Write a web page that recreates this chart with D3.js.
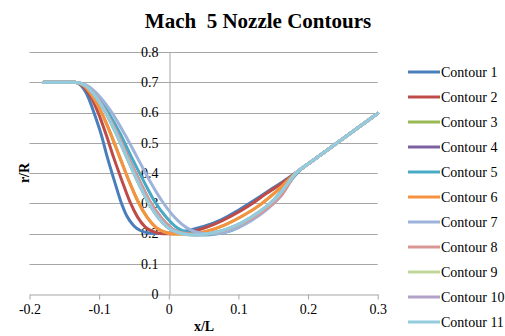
<!DOCTYPE html>
<html>
<head>
<meta charset="utf-8">
<script src="https://cdn.jsdelivr.net/npm/d3@7"></script>
<style>
  body { margin: 0; background: #fff; }
</style>
</head>
<body>
<figure id="chart" style="margin:0"></figure>
<script>
// series names and colours
const names = ["Contour 1", "Contour 2", "Contour 3", "Contour 4", "Contour 5", "Contour 6",
  "Contour 7", "Contour 8", "Contour 9", "Contour 10", "Contour 11"];
const colors = ["#4A7EBB", "#BE4B48", "#98B954", "#7D60A0", "#46AAC5", "#F69240",
  "#9EB3DA", "#DA9694", "#C3D69B", "#B3A2C7", "#93CDDD"];

const xTicks = [-0.2, -0.1, 0, 0.1, 0.2, 0.3];
const yTicks = [0, 0.1, 0.2, 0.3, 0.4, 0.5, 0.6, 0.7, 0.8];

// [x/L, r/R]
const contour1 = [[-0.18,0.7],[-0.135,0.7],[-0.126,0.689],[-0.116,0.652],[-0.107,0.597],[-0.097,0.527],[-0.088,0.45],[-0.078,0.373],[-0.069,0.307],[-0.06,0.257],[-0.05,0.225],[-0.04,0.209],[-0.028,0.202],[-0.01,0.2],[0.01,0.203],[0.03,0.211],[0.05,0.223],[0.075,0.245],[0.1,0.277],[0.125,0.313],[0.15,0.351],[0.17,0.381],[0.185,0.405],[0.2,0.43],[0.245,0.505],[0.3,0.597]];
const contour2 = [[-0.18,0.7],[-0.135,0.7],[-0.124,0.689],[-0.112,0.652],[-0.101,0.597],[-0.09,0.527],[-0.079,0.45],[-0.067,0.373],[-0.056,0.306],[-0.045,0.255],[-0.034,0.222],[-0.022,0.206],[-0.008,0.199],[0.015,0.2],[0.04,0.21],[0.065,0.23],[0.09,0.258],[0.115,0.292],[0.14,0.332],[0.165,0.37],[0.185,0.405],[0.2,0.43],[0.245,0.505],[0.3,0.597]];
const contour3 = [[-0.18,0.7],[-0.135,0.7],[-0.122,0.689],[-0.109,0.652],[-0.096,0.597],[-0.083,0.527],[-0.07,0.45],[-0.057,0.373],[-0.044,0.305],[-0.031,0.253],[-0.018,0.219],[-0.005,0.204],[0.01,0.198],[0.03,0.198],[0.055,0.208],[0.08,0.228],[0.105,0.257],[0.13,0.293],[0.155,0.34],[0.185,0.405],[0.2,0.43],[0.245,0.505],[0.3,0.597]];
const contour4 = [[-0.18,0.7],[-0.135,0.7],[-0.12,0.689],[-0.104,0.652],[-0.089,0.597],[-0.073,0.527],[-0.058,0.45],[-0.042,0.373],[-0.027,0.305],[-0.011,0.252],[0.004,0.217],[0.02,0.202],[0.04,0.196],[0.06,0.2],[0.085,0.214],[0.11,0.238],[0.135,0.273],[0.16,0.322],[0.185,0.405],[0.2,0.43],[0.245,0.505],[0.3,0.597]];
const contour5 = [[-0.18,0.7],[-0.135,0.7],[-0.119,0.689],[-0.102,0.652],[-0.086,0.597],[-0.069,0.527],[-0.053,0.45],[-0.036,0.373],[-0.02,0.305],[-0.003,0.252],[0.013,0.217],[0.03,0.202],[0.05,0.195],[0.07,0.199],[0.09,0.21],[0.11,0.232],[0.13,0.265],[0.15,0.31],[0.17,0.36],[0.19,0.413],[0.2,0.43],[0.245,0.505],[0.3,0.597]];
const contour6 = [[-0.18,0.7],[-0.135,0.7],[-0.122,0.689],[-0.109,0.652],[-0.096,0.597],[-0.083,0.527],[-0.07,0.45],[-0.057,0.373],[-0.044,0.305],[-0.031,0.253],[-0.018,0.219],[-0.005,0.204],[0.01,0.198],[0.03,0.198],[0.055,0.208],[0.08,0.228],[0.105,0.257],[0.13,0.293],[0.155,0.34],[0.185,0.405],[0.2,0.43],[0.245,0.505],[0.3,0.597]];
const contour7 = [[-0.18,0.7],[-0.135,0.7],[-0.117,0.689],[-0.099,0.652],[-0.081,0.597],[-0.063,0.527],[-0.045,0.45],[-0.027,0.373],[-0.009,0.305],[0.009,0.252],[0.027,0.217],[0.045,0.202],[0.065,0.198],[0.085,0.207],[0.105,0.225],[0.13,0.26],[0.155,0.31],[0.185,0.405],[0.2,0.43],[0.245,0.505],[0.3,0.597]];
const contour8 = [[-0.18,0.7],[-0.135,0.7],[-0.12,0.689],[-0.104,0.652],[-0.089,0.597],[-0.073,0.527],[-0.058,0.45],[-0.042,0.373],[-0.027,0.305],[-0.011,0.252],[0.004,0.217],[0.02,0.202],[0.04,0.196],[0.06,0.2],[0.085,0.214],[0.11,0.238],[0.135,0.273],[0.16,0.322],[0.185,0.405],[0.2,0.43],[0.245,0.505],[0.3,0.597]];
const contour9 = [[-0.18,0.7],[-0.135,0.7],[-0.12,0.689],[-0.105,0.652],[-0.09,0.597],[-0.075,0.527],[-0.06,0.45],[-0.045,0.373],[-0.03,0.305],[-0.015,0.252],[0,0.217],[0.015,0.202],[0.035,0.195],[0.055,0.199],[0.08,0.212],[0.105,0.236],[0.13,0.272],[0.155,0.32],[0.185,0.405],[0.2,0.43],[0.245,0.505],[0.3,0.597]];
const contour10 = [[-0.18,0.7],[-0.135,0.7],[-0.12,0.689],[-0.105,0.652],[-0.09,0.597],[-0.075,0.527],[-0.06,0.45],[-0.045,0.373],[-0.03,0.305],[-0.015,0.252],[0,0.217],[0.015,0.202],[0.035,0.195],[0.055,0.199],[0.08,0.212],[0.105,0.236],[0.13,0.272],[0.155,0.32],[0.185,0.405],[0.2,0.43],[0.245,0.505],[0.3,0.597]];
const contour11 = [[-0.18,0.7],[-0.135,0.7],[-0.12,0.689],[-0.105,0.652],[-0.09,0.597],[-0.075,0.527],[-0.06,0.45],[-0.045,0.373],[-0.03,0.305],[-0.015,0.252],[0,0.217],[0.015,0.202],[0.035,0.195],[0.055,0.199],[0.08,0.212],[0.105,0.236],[0.13,0.272],[0.155,0.32],[0.185,0.405],[0.2,0.43],[0.245,0.505],[0.3,0.597]];

const contours = [contour1, contour2, contour3, contour4, contour5, contour6,
  contour7, contour8, contour9, contour10, contour11];

const width = 505, height = 336;
const serif = "'Liberation Serif', 'Times New Roman', serif";
const fmt = d => d === 0 ? "0" : d3.format(".1f")(d).replace("\u2212", "-");

const svg = d3.select("figure#chart")
  .append("svg")
  .attr("width", width)
  .attr("height", height)
  .attr("font-family", serif);

const x = d3.scaleLinear().domain([-0.2, 0.3]).range([29.5, 377.7]);
const y = d3.scaleLinear().domain([0, 0.8]).range([294, 52]);

// horizontal gridlines
svg.append("g")
  .selectAll("line")
  .data(yTicks.filter(d => d > 0))
  .enter()
  .append("line")
  .attr("x1", x(-0.2))
  .attr("x2", x(0.3))
  .attr("y1", d => Math.round(y(d)) + 0.5)
  .attr("y2", d => Math.round(y(d)) + 0.5)
  .attr("stroke", "#a6a6a6")
  .attr("stroke-width", 1);

// x axis along r/R = 0
const xAxis = svg.append("g")
  .attr("transform", "translate(0," + (Math.round(y(0)) + 0.5) + ")")
  .call(d3.axisBottom(x).tickValues(xTicks).tickSize(5).tickSizeOuter(0).tickFormat(fmt));
xAxis.attr("font-family", serif).attr("font-size", 14);
xAxis.select(".domain").attr("stroke", "#a6a6a6");
xAxis.selectAll(".tick line").attr("stroke", "#a6a6a6");
xAxis.selectAll(".tick text").attr("y", 10).attr("fill", "#000");

// y axis crossing at x/L = 0
const yAxis = svg.append("g")
  .attr("transform", "translate(" + (Math.round(x(0)) + 0.5) + ",0)")
  .call(d3.axisLeft(y).tickValues(yTicks).tickSize(0).tickSizeOuter(0).tickFormat(fmt));
yAxis.attr("font-family", serif).attr("font-size", 14);
yAxis.select(".domain").attr("stroke", "#a6a6a6");
yAxis.selectAll(".tick text").attr("x", -11).attr("fill", "#000");

// the contours
const line = d3.line()
  .x(d => x(d[0]))
  .y(d => y(d[1]))
  .curve(d3.curveMonotoneX);

svg.append("g")
  .selectAll("path")
  .data(contours)
  .enter()
  .append("path")
  .attr("d", line)
  .attr("fill", "none")
  .attr("stroke", (d, i) => colors[i])
  .attr("stroke-width", 3)
  .attr("stroke-linejoin", "round")
  .attr("stroke-linecap", "round");

// legend
const legend = svg.append("g")
  .selectAll("g")
  .data(names)
  .enter()
  .append("g")
  .attr("transform", (d, i) => "translate(408," + (72 + i * 25) + ")");

legend.append("line")
  .attr("x1", 0)
  .attr("x2", 32)
  .attr("stroke", (d, i) => colors[i])
  .attr("stroke-width", 3);

legend.append("text")
  .attr("x", 33)
  .attr("dy", "0.35em")
  .attr("font-size", 14)
  .text(d => d);

// title
svg.append("text")
  .attr("x", 258)
  .attr("y", 28)
  .attr("text-anchor", "middle")
  .attr("font-size", 21)
  .attr("font-weight", "bold")
  .style("white-space", "pre")
  .text("Mach  5 Nozzle Contours");

// axis titles
svg.append("text")
  .attr("x", 204)
  .attr("y", 331)
  .attr("text-anchor", "middle")
  .attr("font-size", 14)
  .attr("font-weight", "bold")
  .text("x/L");

svg.append("text")
  .attr("transform", "translate(29,173) rotate(-90)")
  .attr("text-anchor", "middle")
  .attr("font-size", 14)
  .attr("font-weight", "bold")
  .text("r/R");
</script>
</body>
</html>
